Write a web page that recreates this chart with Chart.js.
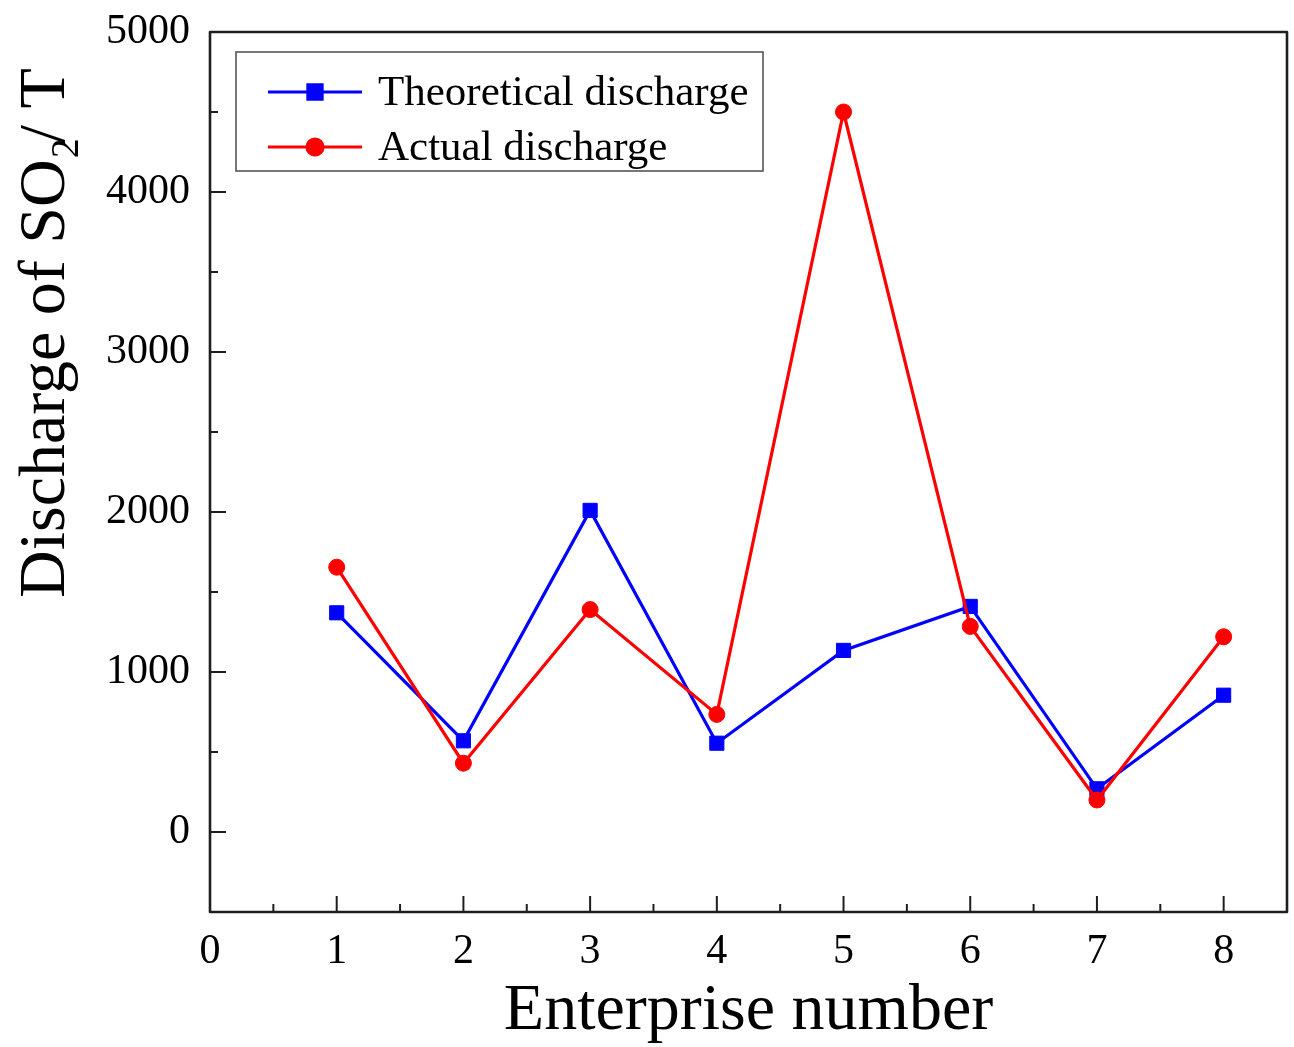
<!DOCTYPE html>
<html>
<head>
<meta charset="utf-8">
<script src="https://cdn.jsdelivr.net/npm/chart.js@4.4.0/dist/chart.umd.min.js"></script>
<style>
  html, body { margin: 0; padding: 0; background: #ffffff; }
  #wrap { width: 1294px; height: 1047px; }
  canvas { display: block; }
</style>
</head>
<body>
<div id="wrap"><canvas id="c" width="1294" height="1047"></canvas></div>
<script>
// Enterprise numbers and SO2 discharge (tonnes)
const enterprises = [1, 2, 3, 4, 5, 6, 7, 8];
const theoretical = [1370, 570, 2010, 555, 1135, 1410, 270, 855];
const actual = [1655, 430, 1390, 735, 4500, 1285, 200, 1220];

// Axis ticks
const xTicks = [0, 1, 2, 3, 4, 5, 6, 7, 8];
const xMinorTicks = [0.5, 1.5, 2.5, 3.5, 4.5, 5.5, 6.5, 7.5];
const yTicks = [0, 1000, 2000, 3000, 4000, 5000];
const yMinorTicks = [500, 1500, 2500, 3500, 4500];

const seriesLabels = ['Theoretical discharge', 'Actual discharge'];
const xTitle = 'Enterprise number';

const SERIF = "'Liberation Serif', 'Times New Roman', serif";
const AXIS_COLOR = '#1e1e1e';

// Box frame with inward ticks on the left and bottom sides
const framePlugin = {
  id: 'frame',
  beforeDatasetsDraw(chart) {
    const { ctx, chartArea: a, scales } = chart;
    const x = scales.x, y = scales.y;
    ctx.save();
    ctx.strokeStyle = AXIS_COLOR;
    ctx.lineCap = 'butt';
    ctx.lineWidth = 2;
    const seg = (x1, y1, x2, y2) => { ctx.beginPath(); ctx.moveTo(x1, y1); ctx.lineTo(x2, y2); ctx.stroke(); };
    xTicks.forEach(v => { const p = x.getPixelForValue(v); seg(p, a.bottom, p, a.bottom - 16); });
    xMinorTicks.forEach(v => { const p = x.getPixelForValue(v); seg(p, a.bottom, p, a.bottom - 8); });
    yTicks.forEach(v => { const p = y.getPixelForValue(v); seg(a.left, p, a.left + 16, p); });
    yMinorTicks.forEach(v => { const p = y.getPixelForValue(v); seg(a.left, p, a.left + 8, p); });
    ctx.lineWidth = 2.6;
    ctx.lineJoin = 'round';
    ctx.strokeRect(a.left, a.top, a.right - a.left, a.bottom - a.top);
    ctx.restore();
  }
};

// Boxed legend in the upper-left of the plot
const legendPlugin = {
  id: 'boxLegend',
  afterDraw(chart) {
    const { ctx, chartArea: a } = chart;
    const bx = a.left + 26, by = a.top + 20, bw = 527, bh = 119;
    ctx.save();
    ctx.fillStyle = '#ffffff';
    ctx.fillRect(bx, by, bw, bh);
    ctx.strokeStyle = '#555555';
    ctx.lineWidth = 1.6;
    ctx.strokeRect(bx, by, bw, bh);
    const order = [1, 0]; // theoretical first, actual second
    order.forEach((di, row) => {
      const ds = chart.data.datasets[di];
      const cy = by + 40 + row * 55;
      ctx.strokeStyle = ds.borderColor;
      ctx.lineWidth = 3.2;
      ctx.beginPath(); ctx.moveTo(bx + 32, cy); ctx.lineTo(bx + 126, cy); ctx.stroke();
      Chart.helpers.drawPoint(ctx, {
        pointStyle: ds.pointStyle, radius: ds.pointRadius, borderWidth: 1, rotation: 0
      }, bx + 79, cy);
      ctx.fillStyle = ds.pointBackgroundColor;
      ctx.fill();
      ctx.fillStyle = '#000000';
      ctx.font = '43px ' + SERIF;
      ctx.textBaseline = 'middle';
      ctx.textAlign = 'left';
      ctx.fillText(ds.label, bx + 142, cy + 2);
    });
    ctx.restore();
  }
};

// Vertical axis title with a subscript
const yTitlePlugin = {
  id: 'yTitle',
  afterDraw(chart) {
    const { ctx } = chart;
    ctx.save();
    ctx.translate(64, 598);
    ctx.rotate(-Math.PI / 2);
    ctx.fillStyle = '#000000';
    ctx.textBaseline = 'alphabetic';
    ctx.textAlign = 'left';
    ctx.font = '66px ' + SERIF;
    const main = 'Discharge of SO';
    ctx.fillText(main, 0, 0);
    const w = ctx.measureText(main).width;
    ctx.font = '40px ' + SERIF;
    ctx.fillText('2', w + 1, 14);
    const w2 = ctx.measureText('2').width;
    ctx.font = '66px ' + SERIF;
    ctx.fillText('/ T', w + w2 * 0.8, 0);
    ctx.restore();
  }
};

new Chart(document.getElementById('c'), {
  type: 'line',
  data: {
    datasets: [
      {
        label: seriesLabels[1],
        data: enterprises.map((e, i) => ({ x: e, y: actual[i] })),
        borderColor: '#ff0000',
        backgroundColor: '#ff0000',
        pointBackgroundColor: '#ff0000',
        pointBorderColor: '#ff0000',
        pointStyle: 'circle',
        pointRadius: 8,
        pointBorderWidth: 1,
        borderWidth: 3.2,
        tension: 0
      },
      {
        label: seriesLabels[0],
        data: enterprises.map((e, i) => ({ x: e, y: theoretical[i] })),
        borderColor: '#0000ff',
        backgroundColor: '#0000ff',
        pointBackgroundColor: '#0000ff',
        pointBorderColor: '#0000ff',
        pointStyle: 'rect',
        pointRadius: 10,
        pointBorderWidth: 1,
        borderWidth: 3.2,
        tension: 0
      }
    ]
  },
  options: {
    responsive: false,
    animation: false,
    devicePixelRatio: 1,
    layout: { autoPadding: false, padding: { left: 0, right: 7, top: 32, bottom: 0 } },
    plugins: {
      legend: { display: false },
      tooltip: { enabled: false },
      title: { display: false }
    },
    scales: {
      x: {
        type: 'linear',
        min: 0,
        max: 8.5,
        afterBuildTicks(scale) { scale.ticks = xTicks.map(v => ({ value: v })); },
        afterFit(scale) { scale.height = 135; scale.paddingLeft = 0; scale.paddingRight = 0; },
        grid: { display: false, drawTicks: false },
        border: { display: false },
        ticks: {
          padding: 15,
          color: '#000000',
          font: { family: SERIF, size: 42 },
          maxRotation: 0,
          callback: v => String(v)
        },
        title: {
          display: true,
          text: xTitle,
          color: '#000000',
          font: { family: SERIF, size: 66, lineHeight: 1 },
          padding: { top: 0, bottom: 2 }
        }
      },
      y: {
        type: 'linear',
        min: -500,
        max: 5000,
        afterBuildTicks(scale) { scale.ticks = yTicks.map(v => ({ value: v })); },
        afterFit(scale) { scale.width = 210; scale.paddingTop = 0; scale.paddingBottom = 0; },
        grid: { display: false, drawTicks: false },
        border: { display: false },
        ticks: {
          padding: 20,
          color: '#000000',
          font: { family: SERIF, size: 42 },
          callback: v => String(v)
        }
      }
    }
  },
  plugins: [framePlugin, legendPlugin, yTitlePlugin]
});
</script>
</body>
</html>
